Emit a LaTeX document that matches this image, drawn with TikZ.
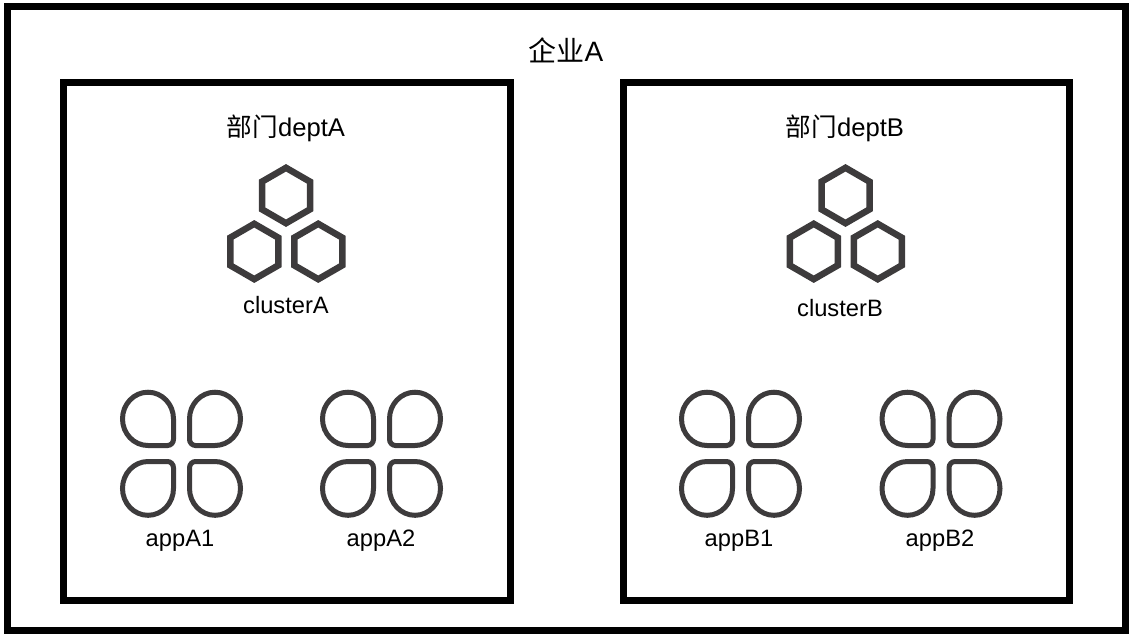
\documentclass[tikz,border=0pt]{standalone}
\usepackage{fontspec}
\setmainfont{Liberation Sans}
\newfontfamily\cjk{Noto Sans CJK SC}
\definecolor{icon}{HTML}{3D3B3C}
\tikzset{
  x=1pt,y=-1pt,
  frame/.style={draw=black,line width=7pt,miter limit=10},
  lab/.style={anchor=base,inner sep=0pt,font=\fontsize{23.7}{28}\selectfont,text=black},
  hexa/.pic={\draw[icon,line width=6.5pt,line join=miter]
    (0,-27.7)--(24,-13.85)--(24,13.85)--(0,27.7)--(-24,13.85)--(-24,-13.85)--cycle;},
  cluster/.pic={
    \pic at (0,0) {hexa};
    \pic at (-31.75,56) {hexa};
    \pic at (32.25,56) {hexa};},
  petalshape/.pic={\draw[icon,line width=5pt]
    (6,0) -- (25.5,0) .. controls (39.6,0) and (51,11.4) .. (51,25.5)
    .. controls (51,39.6) and (39.6,51) .. (25.5,51)
    .. controls (11.4,51) and (0,39.6) .. (0,25.5)
    -- (0,6) .. controls (0,2.7) and (2.7,0) .. (6,0) -- cycle;},
  app/.pic={
    \pic[xscale=-1,yscale=-1.045] at (-8,-8) {petalshape};
    \pic[xscale=1,yscale=-1.045] at (8,-8) {petalshape};
    \pic[xscale=-1,yscale=1.055] at (-8,8) {petalshape};
    \pic[xscale=1,yscale=1.055] at (8,8) {petalshape};}
}
\begin{document}
\begin{tikzpicture}
\useasboundingbox (0,0) rectangle (1132,638);
\draw[frame] (7.5,6.5) rectangle (1125.5,630.5);
\draw[frame] (63.5,82.5) rectangle (510.5,600);
\draw[frame] (623,82.5) rectangle (1069.5,600);
\node[lab,font=\fontsize{28}{32}\selectfont] (corp) at (566,61) {{\cjk 企业}A};
\node[lab,font=\fontsize{25.6}{30}\selectfont] (deptA) at (286,136) {{\cjk 部门}deptA};
\node[lab,font=\fontsize{25.6}{30}\selectfont] (deptB) at (845,136) {{\cjk 部门}deptB};
\pic at (286,195.5) {cluster};
\pic at (845.5,195.5) {cluster};
\node[lab] (clusterA) at (286,313) {clusterA};
\node[lab] (clusterB) at (840,316) {clusterB};
\pic at (181.5,453.5) {app};
\pic at (381.5,453.5) {app};
\pic at (740.5,453.5) {app};
\pic at (941,453.5) {app};
\node[lab] (appA1) at (180,546) {appA1};
\node[lab] (appA2) at (381,546) {appA2};
\node[lab] (appB1) at (739,546) {appB1};
\node[lab] (appB2) at (940,546) {appB2};
\end{tikzpicture}
\end{document}
